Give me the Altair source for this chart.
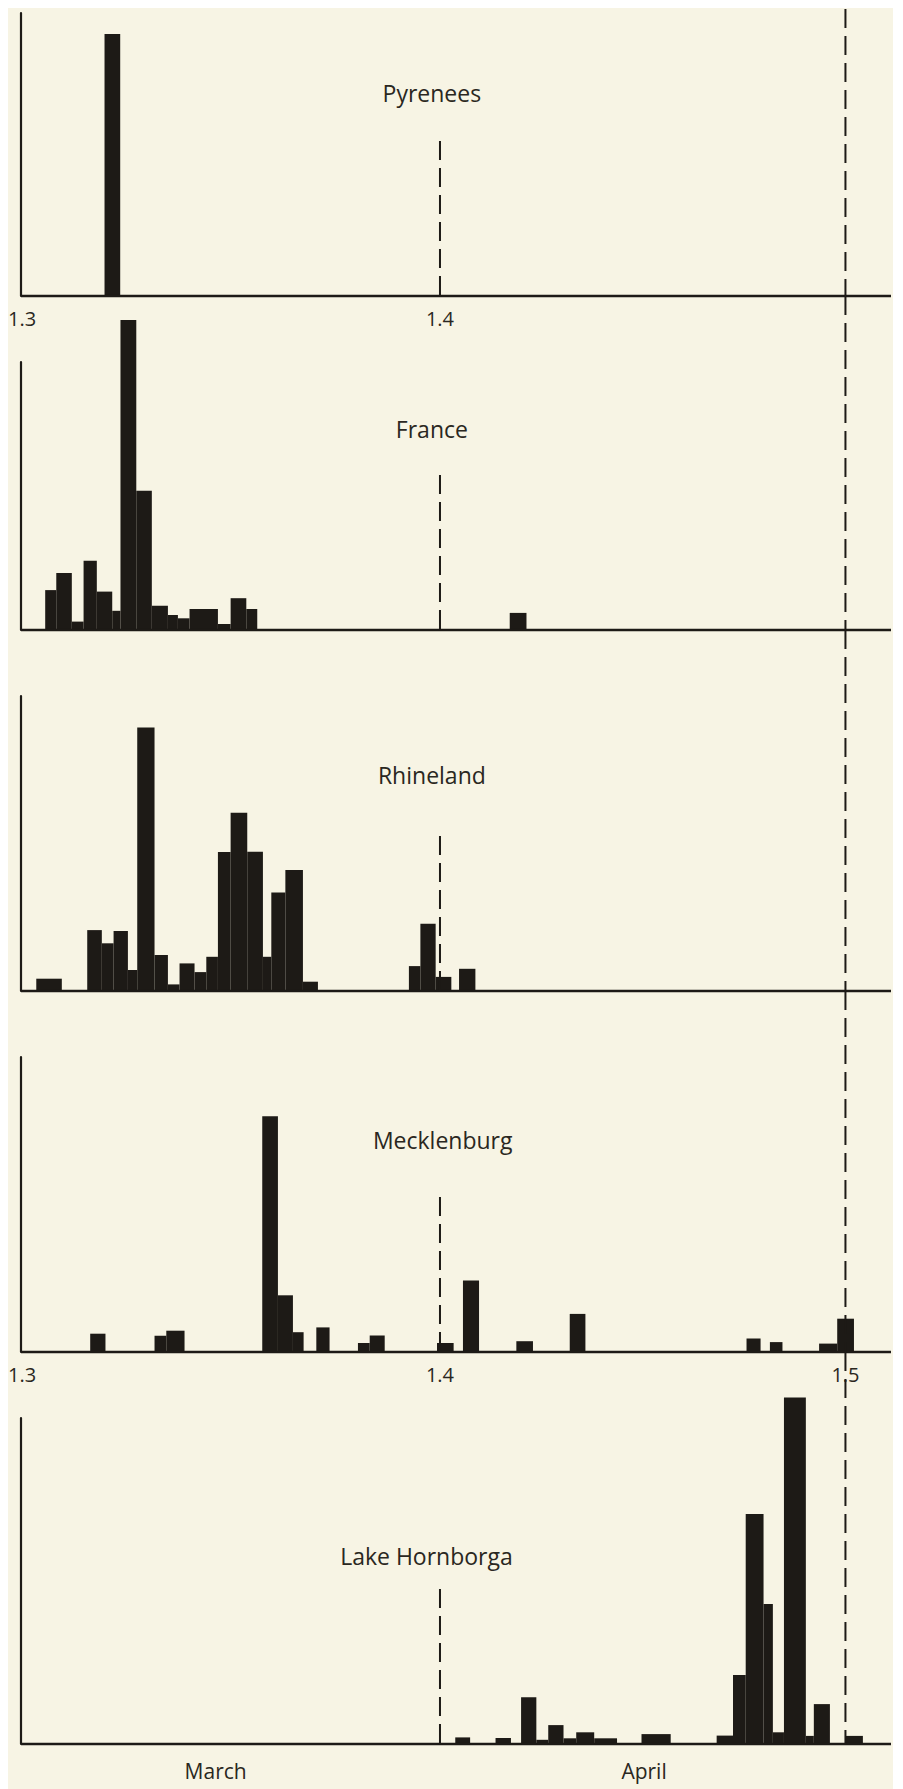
import altair as alt
import pandas as pd

# x positions are days after 1 March (1.3 = 0, 1.4 = 31, 1.5 = 61); heights in relative units
REGIONS = ["Pyrenees", "France", "Rhineland", "Mecklenburg", "Lake Hornborga"]

PYR_START = [6.18]
PYR_END = [7.34]
PYR_VAL = [87.3]

FRA_START = [1.79, 2.61, 3.76, 4.63, 5.61, 6.75, 7.36, 8.53, 9.68, 10.87, 11.61, 12.47, 14.57, 15.51, 16.67, 36.16]
FRA_END = [2.61, 3.76, 4.63, 5.61, 6.75, 7.36, 8.53, 9.68, 10.87, 11.61, 12.47, 14.57, 15.51, 16.67, 17.48, 37.40]
FRA_VAL = [13.3, 19.0, 2.8, 23.1, 12.8, 6.4, 103.3, 46.4, 8.1, 5.0, 3.9, 7.0, 2.0, 10.6, 7.0, 5.7]

RHI_START = [1.13, 4.90, 5.98, 6.85, 7.91, 8.60, 9.88, 10.87, 11.73, 12.84, 13.71, 14.57, 15.51, 16.74,
             17.90, 18.52, 19.56, 20.86, 28.70, 29.55, 30.68, 32.41]
RHI_END = [3.02, 5.98, 6.85, 7.91, 8.60, 9.88, 10.87, 11.73, 12.84, 13.71, 14.57, 15.51, 16.74, 17.90,
           18.52, 19.56, 20.86, 21.97, 29.55, 30.68, 31.84, 33.62]
RHI_VAL = [4.1, 20.3, 15.9, 20.0, 7.0, 87.8, 12.0, 2.2, 9.2, 6.3, 11.4, 46.3, 59.4, 46.4,
           11.4, 32.8, 40.3, 3.1, 8.3, 22.4, 4.7, 7.4]

MEC_START = [5.12, 9.88, 10.75, 17.85, 19.01, 20.12, 21.85, 24.93, 25.80, 30.78, 32.70, 36.65, 40.60,
             53.68, 55.41, 59.05, 60.39]
MEC_END = [6.25, 10.75, 12.10, 19.01, 20.12, 20.91, 22.83, 25.80, 26.91, 32.01, 33.89, 37.88, 41.76,
           54.72, 56.34, 60.39, 61.63]
MEC_VAL = [6.1, 5.4, 7.1, 78.6, 18.9, 6.6, 8.2, 3.0, 5.5, 3.0, 23.8, 3.6, 12.7, 4.5, 3.3, 2.8, 11.1]

HOR_START = [32.13, 35.11, 37.00, 38.13, 39.01, 40.14, 41.08, 42.41, 45.91, 51.47, 52.68, 53.62, 54.94,
             55.63, 56.45, 58.07, 58.66, 61.03]
HOR_END = [33.23, 36.25, 38.13, 39.01, 40.14, 41.08, 42.41, 44.10, 48.07, 52.68, 53.62, 54.94, 55.63,
           56.45, 58.07, 58.66, 59.85, 62.29]
HOR_VAL = [2.2, 2.0, 15.6, 1.4, 6.3, 1.9, 3.9, 1.9, 3.3, 2.8, 23.0, 76.7, 46.7, 3.9, 115.5, 2.7, 13.3, 2.7]

TICK_DAYS = [0, 31, 61]
TICK_LABELS = ["1.3", "1.4", "1.5"]
MONTH_DAYS = [14.4, 46.1]
MONTH_LABELS = ["March", "April"]
LABEL_DAYS = [30.4, 30.4, 30.4, 31.2, 30.0]

# ---- styling ----
PAPER = "#f7f4e4"
INK = "#1d1a16"
TEXT = "#2a2721"
FONT = "Open Sans"
WIDTH = 870
DAY_MAX = 64.37
UNIT = 3.0          # pixels per unit of height
HEIGHTS = [283, 268, 295, 295, 326]
LABEL_Y = [82, 69, 81, 85, 140]
GAP = 66
X_SCALE = alt.Scale(domain=[0, DAY_MAX], nice=False, zero=False)


def panel(i, starts, ends, vals, ticks=None, months=False):
    h = HEIGHTS[i]
    ysc = alt.Scale(domain=[0, h / UNIT], nice=False, zero=True)
    df = pd.DataFrame({"start": starts, "end": ends, "v": vals})
    bars = alt.Chart(df).mark_rect(color=INK).encode(
        x=alt.X("start:Q", scale=X_SCALE, axis=None),
        x2="end:Q",
        y=alt.Y("v:Q", scale=ysc, axis=None),
        y2=alt.value(h),
    )
    zero = pd.DataFrame({"d": [0]})
    yaxis = alt.Chart(zero).mark_rule(color=INK, strokeWidth=2.2, strokeCap="round").encode(
        x=alt.X("d:Q", scale=X_SCALE, axis=None), y=alt.value(0), y2=alt.value(h)
    )
    base = alt.Chart(zero).mark_rule(color=INK, strokeWidth=2.6).encode(
        x=alt.value(0), x2=alt.value(WIDTH), y=alt.value(h)
    )
    d14 = alt.Chart(pd.DataFrame({"d": [TICK_DAYS[1]]})).mark_rule(
        color=INK, strokeWidth=2, strokeDash=[19, 8]
    ).encode(x=alt.X("d:Q", scale=X_SCALE, axis=None), y=alt.value(h - 155), y2=alt.value(h))
    top_ext = 4 if i == 0 else GAP
    d15 = alt.Chart(pd.DataFrame({"d": [TICK_DAYS[2]]})).mark_rule(
        color=INK, strokeWidth=2, strokeDash=[19, 8]
    ).encode(x=alt.X("d:Q", scale=X_SCALE, axis=None), y=alt.value(-top_ext), y2=alt.value(h))
    name = alt.Chart(pd.DataFrame({"d": [LABEL_DAYS[i]], "t": [REGIONS[i]]})).mark_text(
        font=FONT, fontSize=23, color=TEXT, align="center", baseline="middle"
    ).encode(x=alt.X("d:Q", scale=X_SCALE, axis=None), y=alt.value(LABEL_Y[i]), text="t:N")
    layers = [bars, yaxis, base, d14, d15, name]
    if ticks:
        tdf = pd.DataFrame({"d": TICK_DAYS[:ticks], "t": TICK_LABELS[:ticks]})
        first = alt.Chart(tdf.iloc[:1]).mark_text(
            font=FONT, fontSize=20, color=TEXT, align="left", baseline="middle", dx=-13
        ).encode(x=alt.X("d:Q", scale=X_SCALE, axis=None), y=alt.value(h + 24), text="t:N")
        rest = alt.Chart(tdf.iloc[1:]).mark_text(
            font=FONT, fontSize=20, color=TEXT, align="center", baseline="middle"
        ).encode(x=alt.X("d:Q", scale=X_SCALE, axis=None), y=alt.value(h + 24), text="t:N")
        layers += [first, rest]
    if months:
        mdf = pd.DataFrame({"d": MONTH_DAYS, "t": MONTH_LABELS})
        m = alt.Chart(mdf).mark_text(
            font=FONT, fontSize=21, color=TEXT, align="center", baseline="middle"
        ).encode(x=alt.X("d:Q", scale=X_SCALE, axis=None), y=alt.value(h + 29), text="t:N")
        layers.append(m)
    return alt.layer(*layers).properties(width=WIDTH, height=h)


panels = [
    panel(0, PYR_START, PYR_END, PYR_VAL, ticks=2),
    panel(1, FRA_START, FRA_END, FRA_VAL),
    panel(2, RHI_START, RHI_END, RHI_VAL),
    panel(3, MEC_START, MEC_END, MEC_VAL, ticks=3),
    panel(4, HOR_START, HOR_END, HOR_VAL, months=True),
]

chart = alt.vconcat(*panels, spacing=GAP, bounds="flush").properties(
    padding={"left": 0, "top": 0, "right": 0, "bottom": 42},
    background=PAPER,
).configure_view(strokeWidth=0)

chart.save("out.html", embed_options={"renderer": "svg", "actions": False})
